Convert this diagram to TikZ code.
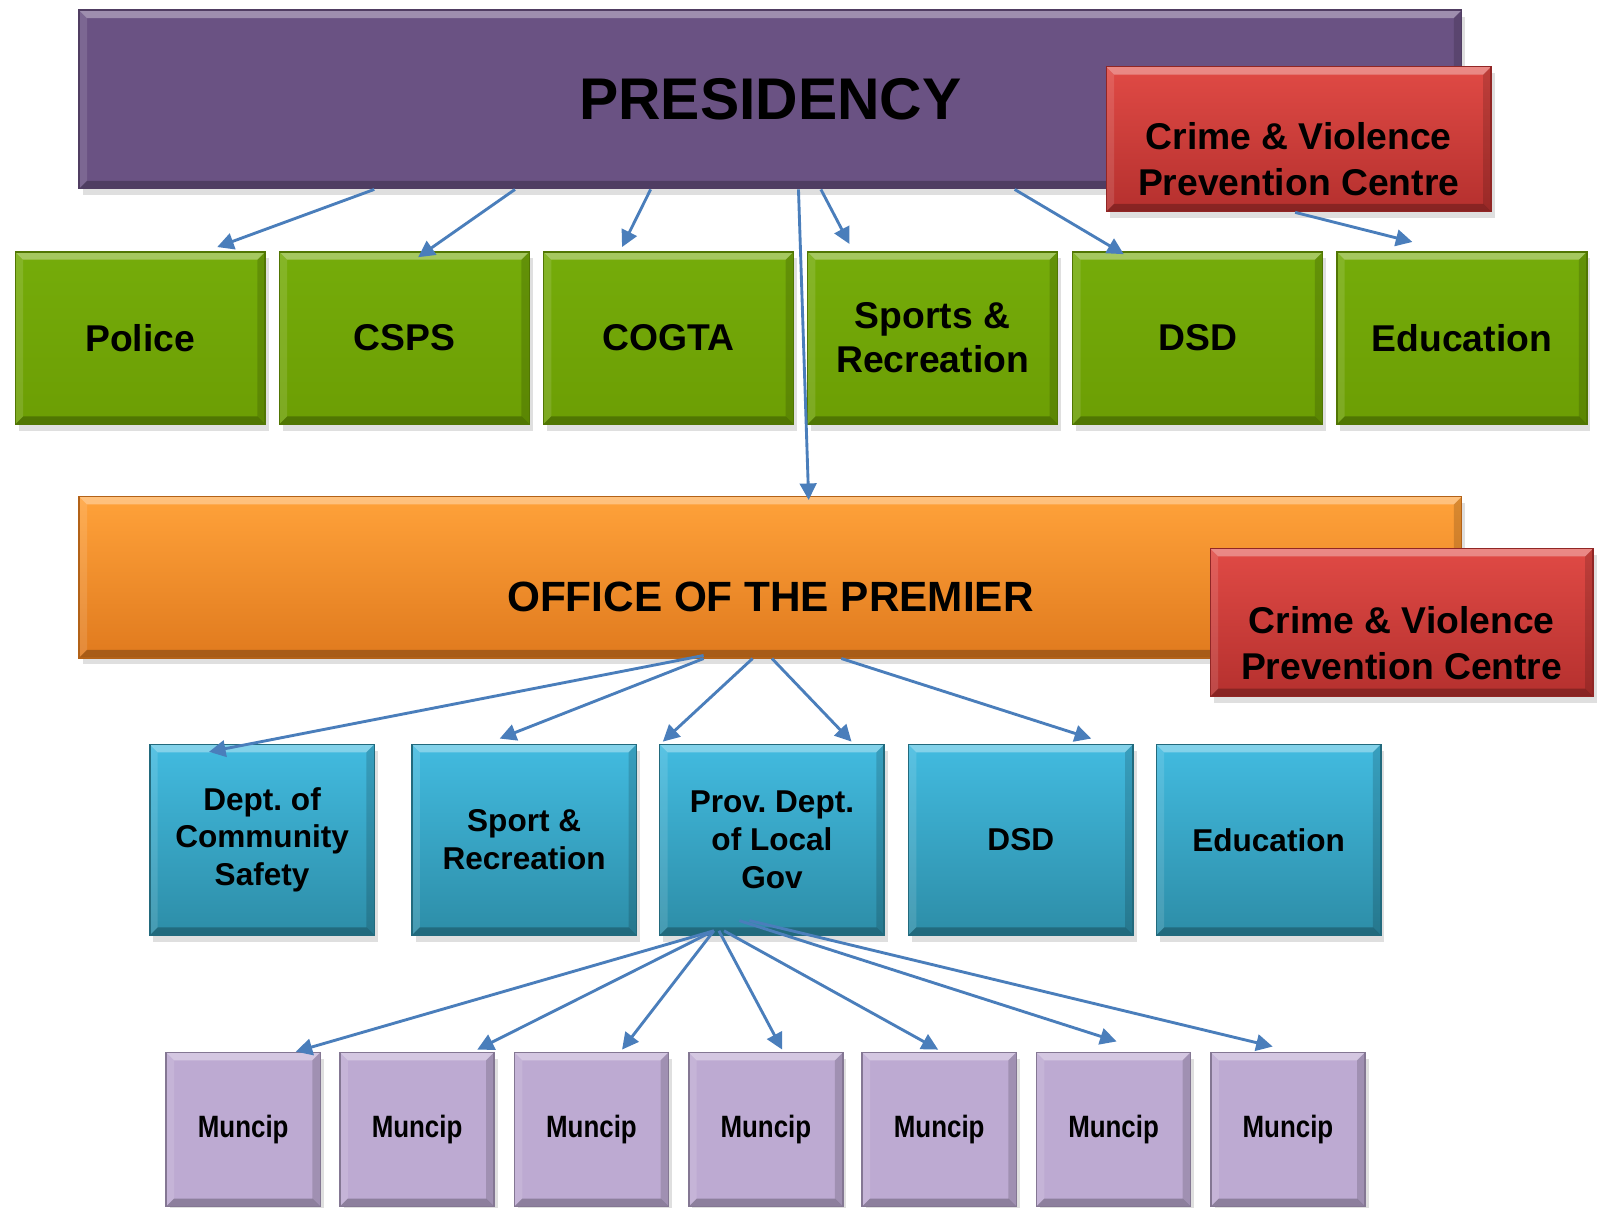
\documentclass[tikz,border=0pt]{standalone}
\usepackage{fontspec}
\setmainfont{Liberation Sans}
\newfontfamily\narrowfont[FakeStretch=0.84]{Liberation Sans}
\usetikzlibrary{calc,shadows,arrows.meta}
\newlength{\bevelsize}
\setlength{\bevelsize}{2.2pt}
\definecolor{background}{RGB}{255, 255, 255}
\definecolor{presidency}{HTML}{6A5283}
\definecolor{crimetop}{HTML}{E04A45}
\definecolor{crimebottom}{HTML}{B5302E}
\definecolor{nationaltop}{HTML}{75AC0A}
\definecolor{nationalbottom}{HTML}{6C9E04}
\definecolor{premiertop}{HTML}{FFA23A}
\definecolor{premierbottom}{HTML}{E07A1E}
\definecolor{provincetop}{HTML}{42BBE0}
\definecolor{provincebottom}{HTML}{2D8DA7}
\definecolor{muncipfill}{HTML}{BDAAD2}
\definecolor{linkcolor}{HTML}{4A7EBB}
\tikzset{
	bevel/.style={path picture={
		\fill[white,opacity=0.35] (path picture bounding box.north west) -- (path picture bounding box.north east) -- ([shift={(-\bevelsize,-\bevelsize)}]path picture bounding box.north east) -- ([shift={(\bevelsize,-\bevelsize)}]path picture bounding box.north west) -- cycle;
		\fill[white,opacity=0.12] (path picture bounding box.north west) -- ([shift={(\bevelsize,-\bevelsize)}]path picture bounding box.north west) -- ([shift={(\bevelsize,\bevelsize)}]path picture bounding box.south west) -- (path picture bounding box.south west) -- cycle;
		\fill[black,opacity=0.15] (path picture bounding box.north east) -- ([shift={(-\bevelsize,-\bevelsize)}]path picture bounding box.north east) -- ([shift={(-\bevelsize,\bevelsize)}]path picture bounding box.south east) -- (path picture bounding box.south east) -- cycle;
		\fill[black,opacity=0.25] (path picture bounding box.south west) -- ([shift={(\bevelsize,\bevelsize)}]path picture bounding box.south west) -- ([shift={(-\bevelsize,\bevelsize)}]path picture bounding box.south east) -- (path picture bounding box.south east) -- cycle;
	}},
	box/.style={rectangle, inner sep=0pt, align=center, bevel, line width=0.4pt,
		drop shadow={shadow xshift=1pt, shadow yshift=-1.8pt, opacity=0.25}},
	crimebox/.style={box, top color=crimetop, bottom color=crimebottom, draw=crimebottom!80!black,
		minimum height=1.42cm},
	crimetext/.style={align=center, yshift=-0.2cm, font=\bfseries\fontsize{10.4}{12.8}\selectfont},
	nationalbox/.style={box, top color=nationaltop, bottom color=nationalbottom, draw=nationalbottom!75!black,
		minimum width=2.45cm, minimum height=1.69cm, font=\bfseries\fontsize{10.4}{12.3}\selectfont},
	provincebox/.style={box, top color=provincetop, bottom color=provincebottom, draw=provincebottom!75!black,
		minimum width=2.2cm, minimum height=1.87cm, font=\bfseries\fontsize{8.8}{10.5}\selectfont},
	muncipbox/.style={box, fill=muncipfill, draw=muncipfill!70!black,
		minimum width=1.51cm, minimum height=1.51cm, font=\narrowfont\bfseries\fontsize{8.6}{10}\selectfont},
	link/.style={draw=linkcolor, line width=0.8pt, -{Triangle[width=4.6pt,length=4.6pt]}}
}

\begin{document}
\frenchspacing
\begin{tikzpicture}[x=0.01cm, y=-0.01cm]
	% Boundary box
	\fill[background] (0,0) rectangle (1568,1184.5);
	\useasboundingbox (0,0) rectangle (1568,1184.5);

	% National level
	\node[box, fill=presidency, draw=presidency!75!black, minimum width=13.55cm, minimum height=1.75cm,
		font=\bfseries\fontsize{16.4}{19}\selectfont] (pres) at (755.5,97.5) {PRESIDENCY};
	\node[crimebox, minimum width=3.77cm, label={[crimetext]center:Crime \& Violence\\Prevention Centre}] (crimeA) at (1273.5,136.5) {};

	% National departments
	\node[nationalbox] (police) at (137.5,331.5) {Police};
	\node[nationalbox] (csps) at (396.5,331.5) {CSPS};
	\node[nationalbox] (cogta) at (655.5,331.5) {COGTA};
	\node[nationalbox] (sports) at (914.5,331.5) {Sports \&\\Recreation};
	\node[nationalbox] (dsd) at (1174.5,331.5) {DSD};
	\node[nationalbox] (edu) at (1433.5,331.5) {Education};

	% Provincial level
	\node[box, top color=premiertop, bottom color=premierbottom, draw=premierbottom!80!black,
		minimum width=13.55cm, minimum height=1.58cm,
		label={[align=center, yshift=-0.19cm, font=\bfseries\fontsize{11.8}{14}\selectfont]center:OFFICE OF THE PREMIER}] (premier) at (755.5,566) {};
	\node[crimebox, minimum width=3.75cm, minimum height=1.45cm, label={[crimetext]center:Crime \& Violence\\Prevention Centre}] (crimeB) at (1374.5,610.5) {};

	% Provincial departments
	\node[provincebox] (safety) at (257,823.5) {Dept. of\\Community\\Safety};
	\node[provincebox] (sport) at (514,823.5) {Sport \&\\Recreation};
	\node[provincebox] (localgov) at (757,823.5) {Prov. Dept.\\of Local\\Gov};
	\node[provincebox] (pdsd) at (1001,823.5) {DSD};
	\node[provincebox] (pedu) at (1244,823.5) {Education};

	% Municipalities
	\node[muncipbox] (m1) at (238.5,1107.5) {Muncip};
	\node[muncipbox] (m2) at (409,1107.5) {Muncip};
	\node[muncipbox] (m3) at (580,1107.5) {Muncip};
	\node[muncipbox] (m4) at (751,1107.5) {Muncip};
	\node[muncipbox] (m5) at (921,1107.5) {Muncip};
	\node[muncipbox] (m6) at (1092,1107.5) {Muncip};
	\node[muncipbox] (m7) at (1263,1107.5) {Muncip};

	% Links from the presidency
	\draw[link] ($(pres.south)+(-388.5,0)$) -- ($(police.north)+(75.5,-4)$);
	\draw[link] ($(pres.south)+(-250.5,0)$) -- ($(csps.north)+(13.5,6)$);
	\draw[link] ($(pres.south)+(-117.5,0)$) -- ($(cogta.north)+(-45.5,-4)$);
	\draw[link] ($(pres.south)+(49.5,0)$) -- ($(sports.north)+(-81.5,-7)$);
	\draw[link] ($(pres.south)+(239.5,0)$) -- ($(dsd.north)+(-72.5,3)$);
	\draw[link] ($(pres.south)+(27.5,0)$) -- ($(premier.north)+(37.5,4)$);
	\draw[link] ($(crimeA.south)+(-3.5,0)$) -- ($(edu.north)+(-48.5,-9)$);

	% Links from the premier
	\draw[link] ($(premier.south)+(-65.5,-3)$) -- ($(safety.north)+(-52,8)$);
	\draw[link] ($(premier.south)+(-65.5,0)$) -- ($(sport.north)+(-24,-5)$);
	\draw[link] ($(premier.south)+(-17.5,0)$) -- ($(localgov.north)+(-107,-2)$);
	\draw[link] ($(premier.south)+(1.5,0)$) -- ($(localgov.north)+(78,-2)$);
	\draw[link] ($(premier.south)+(69.5,0)$) -- ($(pdsd.north)+(69,-5)$);

	% Links to the municipalities
	\draw[link] ($(localgov.south)+(-57,-5)$) -- ($(m1.north)+(51.5,0)$);
	\draw[link] ($(localgov.south)+(-57,-5)$) -- ($(m2.north)+(59,-2)$);
	\draw[link] ($(localgov.south)+(-57,-5)$) -- ($(m3.north)+(30,-2)$);
	\draw[link] ($(localgov.south)+(-52,-5)$) -- ($(m4.north)+(16,-2)$);
	\draw[link] ($(localgov.south)+(-47,-5)$) -- ($(m5.north)+(-1,-2)$);
	\draw[link] ($(localgov.south)+(-32,-15)$) -- ($(m6.north)+(3,-10)$);
	\draw[link] ($(localgov.south)+(-22,-15)$) -- ($(m7.north)+(-15,-5)$);
\end{tikzpicture}
\end{document}
